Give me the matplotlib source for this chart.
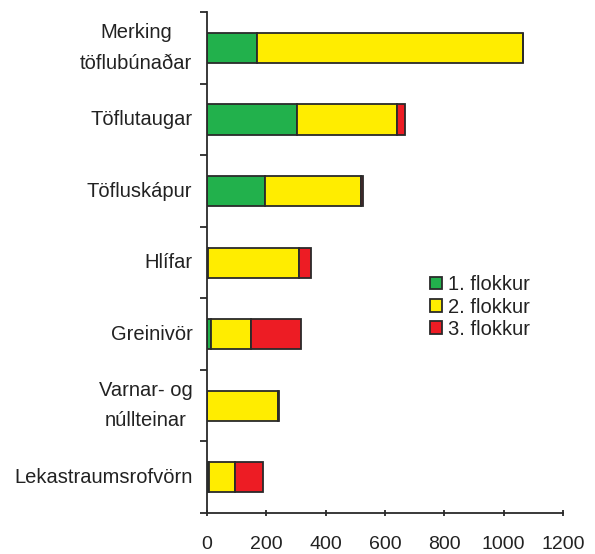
import matplotlib
matplotlib.use("Agg")
import matplotlib.pyplot as plt
import numpy as np

categories = ["Merking\ntöflubúnaðar", "Töflutaugar", "Töfluskápur", "Hlífar",
              "Greinivör", "Varnar- og\nnúllteinar", "Lekastraumsrofvörn"]
flokkur1 = [170, 305, 196, 4, 12, 0, 5]
flokkur2 = [897, 337, 324, 306, 135, 239, 89]
flokkur3 = [0, 27, 5, 41, 170, 4, 95]
series_names = ["1. flokkur", "2. flokkur", "3. flokkur"]
colors = ["#22b14c", "#ffed00", "#ed1c24"]
xticks = [0, 200, 400, 600, 800, 1000, 1200]

plt.rcParams['font.family'] = ['Liberation Sans', 'DejaVu Sans']
FS = 14.5

fig = plt.figure(figsize=(5.95, 5.54), dpi=100)
ax = fig.add_axes([0.348, 0.074, 0.598, 0.904])

n = len(categories)
y = np.arange(n)
h = 0.42
edge = "#2a2a2a"
left = np.zeros(n)
for vals, c, name in zip([flokkur1, flokkur2, flokkur3], colors, series_names):
    vals = np.array(vals, dtype=float)
    ax.barh(y, vals, left=left, height=h, color=c, edgecolor=edge,
            linewidth=1.3, label=name)
    left += vals

ax.set_ylim(n - 0.5, -0.5)
ax.set_xlim(0, 1200)
ax.set_xticks(xticks)
ax.set_xticklabels([str(t) for t in xticks], fontsize=14, color="#222")
ax.set_yticks(y)
ax.set_yticklabels(categories, fontsize=FS, color="#222", ha="right",
                   va="center", multialignment="center", linespacing=1.75)
ax.set_yticks(np.arange(n + 1) - 0.5, minor=True)
ax.tick_params(axis="y", which="major", length=0, pad=10.5)
ax.tick_params(axis="y", which="minor", length=5, width=1.3, color=edge,
               direction="out")
ax.tick_params(axis="x", which="major", length=5, width=1.3, color=edge,
               direction="inout", pad=14)

for s in ["top", "right"]:
    ax.spines[s].set_visible(False)
for s in ["left", "bottom"]:
    ax.spines[s].set_linewidth(1.3)
    ax.spines[s].set_color(edge)

leg = ax.legend(loc="upper left", bbox_to_anchor=(0.626, 0.475), frameon=False,
                fontsize=FS, handlelength=0.6, handleheight=0.6,
                handletextpad=0.3, labelspacing=0.17, borderaxespad=0,
                borderpad=0)
for t in leg.get_texts():
    t.set_color("#222")

fig.savefig("out.png", dpi=100)
